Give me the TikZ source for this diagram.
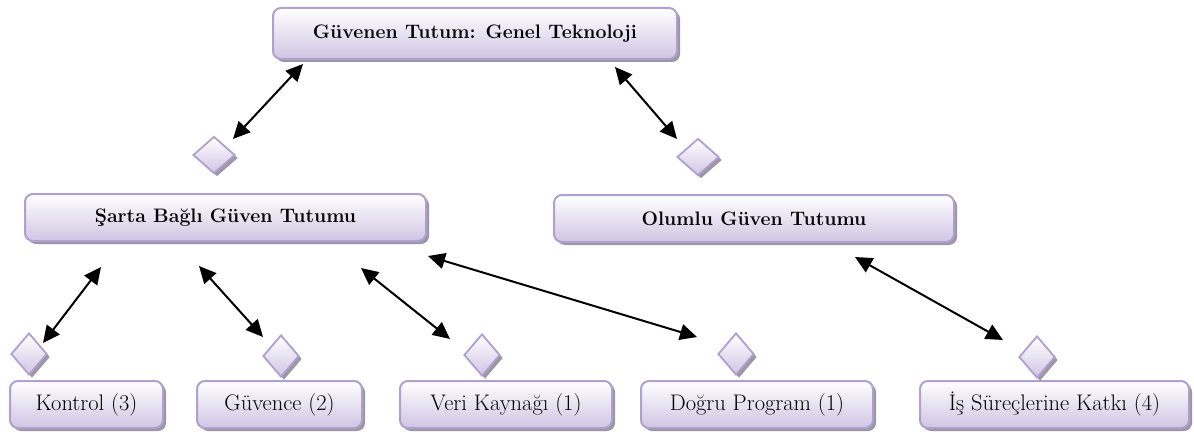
\documentclass[tikz,border=0pt]{standalone}
\usepackage{fontspec}
\usetikzlibrary{arrows.meta,shapes.geometric,shadows}
\definecolor{edge}{HTML}{B0A0D0}
\definecolor{fillbot}{HTML}{D0C5E3}
\definecolor{shade}{HTML}{9C96A6}
\tikzset{
  panel/.style={draw=edge, line width=2pt, rounded corners=8pt,
    top color=white, bottom color=fillbot,
    drop shadow={shadow xshift=3pt, shadow yshift=-3pt, fill=shade, opacity=1},
    inner sep=0pt},
  headpanel/.style={panel, font=\fontsize{19.5}{22}\selectfont\bfseries},
  leafpanel/.style={panel, font=\fontsize{22.5}{26}\selectfont},
  gem/.style={diamond, draw=edge, line width=1.8pt,
    top color=white, bottom color=fillbot,
    drop shadow={shadow xshift=3pt, shadow yshift=-3pt, fill=shade, opacity=1},
    inner sep=0pt},
  smallgem/.style={gem, minimum width=36pt, minimum height=42pt},
  widegem/.style={gem, minimum width=42pt, minimum height=37pt},
  link/.style={line width=2pt,
    {Triangle[length=17pt,width=16pt]}-{Triangle[length=17pt,width=16pt]}},
}
\begin{document}
\begin{tikzpicture}[x=1pt, y=-1pt]
  \fill[white] (0,0) rectangle (1194,436);
  \useasboundingbox (0,0) rectangle (1194,436);

  % upper levels
  \node[headpanel, minimum width=404pt, minimum height=51pt] (top) at (475,33.5)
    {Güvenen Tutum: Genel Teknoloji};
  \node[headpanel, minimum width=401pt, minimum height=47pt] (cond) at (225.5,217.5)
    {Şarta Bağlı Güven Tutumu};
  \node[headpanel, minimum width=400pt, minimum height=47pt] (pos) at (754,218.5)
    {Olumlu Güven Tutumu};

  % leaves
  \node[leafpanel, minimum width=153pt, minimum height=47pt] (ctrl) at (86.5,404.5) {Kontrol (3)};
  \node[leafpanel, minimum width=165pt, minimum height=47pt] (assur) at (279.5,404.5) {Güvence (2)};
  \node[leafpanel, minimum width=212pt, minimum height=47pt] (data) at (506,404.5) {Veri Kaynağı (1)};
  \node[leafpanel, minimum width=232pt, minimum height=47pt] (prog) at (757,404.5) {Doğru Program (1)};
  \node[leafpanel, minimum width=269pt, minimum height=47pt] (proc) at (1054.5,404.5) {İş Süreçlerine Katkı (4)};

  % connector markers
  \node[widegem] (gL) at (214,155) {};
  \node[widegem] (gR) at (698,157) {};
  \node[smallgem] (g1) at (29,354) {};
  \node[smallgem] (g2) at (281,356) {};
  \node[smallgem] (g3) at (482,355) {};
  \node[smallgem] (g4) at (736,354) {};
  \node[smallgem] (g5) at (1037,357) {};

  % arrow ends
  \coordinate (a1s) at (303,64);   \coordinate (a1e) at (233,139);
  \coordinate (a2s) at (615,67);   \coordinate (a2e) at (677,139);
  \coordinate (a3s) at (101,267);  \coordinate (a3e) at (43,343);
  \coordinate (a4s) at (199,266);  \coordinate (a4e) at (263,337);
  \coordinate (a5s) at (361,268);  \coordinate (a5e) at (450,339);
  \coordinate (a6s) at (428,256);  \coordinate (a6e) at (697,337);
  \coordinate (a7s) at (855,257);  \coordinate (a7e) at (1003,340);

  \draw[link] (a1s) -- (a1e);
  \draw[link] (a2s) -- (a2e);
  \draw[link] (a3s) -- (a3e);
  \draw[link] (a4s) -- (a4e);
  \draw[link] (a5s) -- (a5e);
  \draw[link] (a6s) -- (a6e);
  \draw[link] (a7s) -- (a7e);
\end{tikzpicture}
\end{document}
